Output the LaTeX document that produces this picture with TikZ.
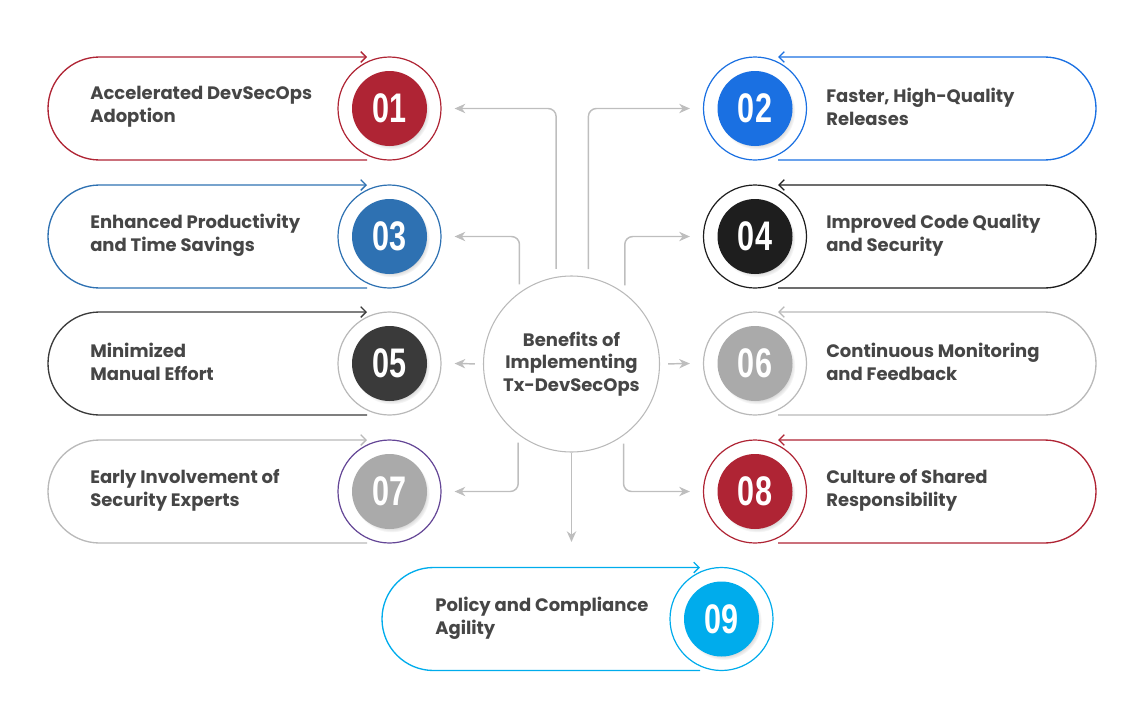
\documentclass[tikz,border=0pt]{standalone}
\usepackage{fontspec}
\setmainfont{Poppins}
\newfontfamily\numfont{Liberation Sans}
\usepackage{tikz}
\usetikzlibrary{shapes,arrows,arrows.meta,positioning,calc,shadows}

\definecolor{txtgray}{RGB}{70,70,70}
\definecolor{linkgray}{RGB}{190,190,190}
\definecolor{lightgray}{RGB}{185,185,185}
\definecolor{red01}{RGB}{175,36,52}
\definecolor{blue02}{RGB}{26,112,226}
\definecolor{blue03}{RGB}{46,113,178}
\definecolor{black04}{RGB}{30,30,30}
\definecolor{dark05}{RGB}{58,58,58}
\definecolor{gray06}{RGB}{170,170,170}
\definecolor{purple07}{RGB}{100,70,150}
\definecolor{cyan09}{RGB}{0,172,236}

\newcommand{\numbox}[1]{\scalebox{0.74}[1]{#1}}

\tikzset{
    card/.style={line width=1pt, -{Straight Barb[length=4pt,width=8pt]}},
    ring/.style={circle, draw, line width=0.9pt, minimum size=77.25pt, inner sep=0pt},
    num/.style={circle, minimum size=56.25pt, inner sep=0pt, text=white,
        circular drop shadow={shadow xshift=1.5pt, shadow yshift=-2pt, fill=black, opacity=0.18, shadow scale=1.02},
        font=\numfont\fontsize{31}{31}\selectfont\bfseries},
    cardtext/.style={anchor=west, align=left, inner sep=0pt, text=txtgray, font=\fontsize{13.5}{17}\selectfont\bfseries},
    link/.style={draw=linkgray, line width=1.1pt, rounded corners=6pt, shorten <=6pt,
        -{Stealth[length=8pt,width=7pt,inset=2.5pt]}},
}

\begin{document}
\begin{tikzpicture}[x=0.75pt,y=0.75pt,yscale=-1]
    \useasboundingbox (0,0) rectangle (1139,718);

    % Hub
    \node [circle, draw=lightgray, line width=0.8pt, minimum size=132pt, inner sep=0pt, align=center,
        text=txtgray, font=\fontsize{13.5}{17}\selectfont\bfseries] (hub) at (571.5,364)
        {Benefits of\\Implementing\\Tx-DevSecOps};

    %Card 01
    \draw [card, draw=red01] (367,160) -- (99.5,160) arc[start angle=90, end angle=270, radius=51.5] -- (367,57);
    \node [ring, draw=red01, fill=white] (ring01) at (389.5,108.5) {};
    \node [num, fill=red01] (num01) at (ring01.center) {\numbox{01}};
    \node [cardtext] (txt01) at (90,107) {Accelerated DevSecOps\\Adoption};

    %Card 02
    \draw [card, draw=blue02] (778,160) -- (1044.5,160) arc[start angle=90, end angle=-90, radius=51.5] -- (778,57);
    \node [ring, draw=blue02, fill=white] (ring02) at (755,108.5) {};
    \node [num, fill=blue02] (num02) at (ring02.center) {\numbox{02}};
    \node [cardtext] (txt02) at (826,107) {Faster, High-Quality\\Releases};

    %Card 03
    \draw [card, draw=blue03] (367,288) -- (99.5,288) arc[start angle=90, end angle=270, radius=51.5] -- (367,185);
    \node [ring, draw=blue03, fill=white] (ring03) at (389.5,236.5) {};
    \node [num, fill=blue03] (num03) at (ring03.center) {\numbox{03}};
    \node [cardtext] (txt03) at (90,235) {Enhanced Productivity\\and Time Savings};

    %Card 04
    \draw [card, draw=black04] (778,288) -- (1044.5,288) arc[start angle=90, end angle=-90, radius=51.5] -- (778,185);
    \node [ring, draw=black04, fill=white] (ring04) at (755,236.5) {};
    \node [num, fill=black04] (num04) at (ring04.center) {\numbox{04}};
    \node [cardtext] (txt04) at (826,235) {Improved Code Quality\\and Security};

    %Card 05
    \draw [card, draw=dark05] (367,415) -- (99.5,415) arc[start angle=90, end angle=270, radius=51.5] -- (367,312);
    \node [ring, draw=lightgray, fill=white] (ring05) at (389.5,363.5) {};
    \node [num, fill=dark05] (num05) at (ring05.center) {\numbox{05}};
    \node [cardtext] (txt05) at (90,362) {Minimized\\Manual Effort};

    %Card 06
    \draw [card, draw=lightgray] (778,415) -- (1044.5,415) arc[start angle=90, end angle=-90, radius=51.5] -- (778,312);
    \node [ring, draw=lightgray, fill=white] (ring06) at (755,363.5) {};
    \node [num, fill=gray06] (num06) at (ring06.center) {\numbox{06}};
    \node [cardtext] (txt06) at (826,362) {Continuous Monitoring\\and Feedback};

    %Card 07
    \draw [card, draw=lightgray] (367,543) -- (99.5,543) arc[start angle=90, end angle=270, radius=51.5] -- (367,440);
    \node [ring, draw=purple07, fill=white] (ring07) at (389.5,491.5) {};
    \node [num, fill=gray06] (num07) at (ring07.center) {\numbox{07}};
    \node [cardtext] (txt07) at (90,490) {Early Involvement of\\Security Experts};

    %Card 08
    \draw [card, draw=red01] (778,543) -- (1044.5,543) arc[start angle=90, end angle=-90, radius=51.5] -- (778,440);
    \node [ring, draw=red01, fill=white] (ring08) at (755,491.5) {};
    \node [num, fill=red01] (num08) at (ring08.center) {\numbox{08}};
    \node [cardtext] (txt08) at (826,490) {Culture of Shared\\Responsibility};

    %Card 09
    \draw [card, draw=cyan09] (700,670.5) -- (433.5,670.5) arc[start angle=90, end angle=270, radius=51.5] -- (700,567.5);
    \node [ring, draw=cyan09, fill=white] (ring09) at (721.5,619) {};
    \node [num, fill=cyan09] (num09) at (ring09.center) {\numbox{09}};
    \node [cardtext] (txt09) at (435,618) {Policy and Compliance\\Agility};

    % Links
    \coordinate (tip09) at (571.5,542);
    \draw [link] (hub.100.5) |- ($(ring01.east)+(13,0)$);
    \draw [link] (hub.79.5) |- ($(ring02.west)+(-13,0)$);
    \draw [link] (hub.126.5) |- ($(ring03.east)+(13,0)$);
    \draw [link] (hub.53.5) |- ($(ring04.west)+(-13,0)$);
    \draw [link] (hub.west) -- ($(ring05.east)+(13,0)$);
    \draw [link] (hub.east) -- ($(ring06.west)+(-13,0)$);
    \draw [link] (hub.233.5) |- ($(ring07.east)+(13,0)$);
    \draw [link] (hub.306.5) |- ($(ring08.west)+(-13,0)$);
    \draw [link, shorten <=0pt] (hub.south) -- (tip09);

\end{tikzpicture}
\end{document}
